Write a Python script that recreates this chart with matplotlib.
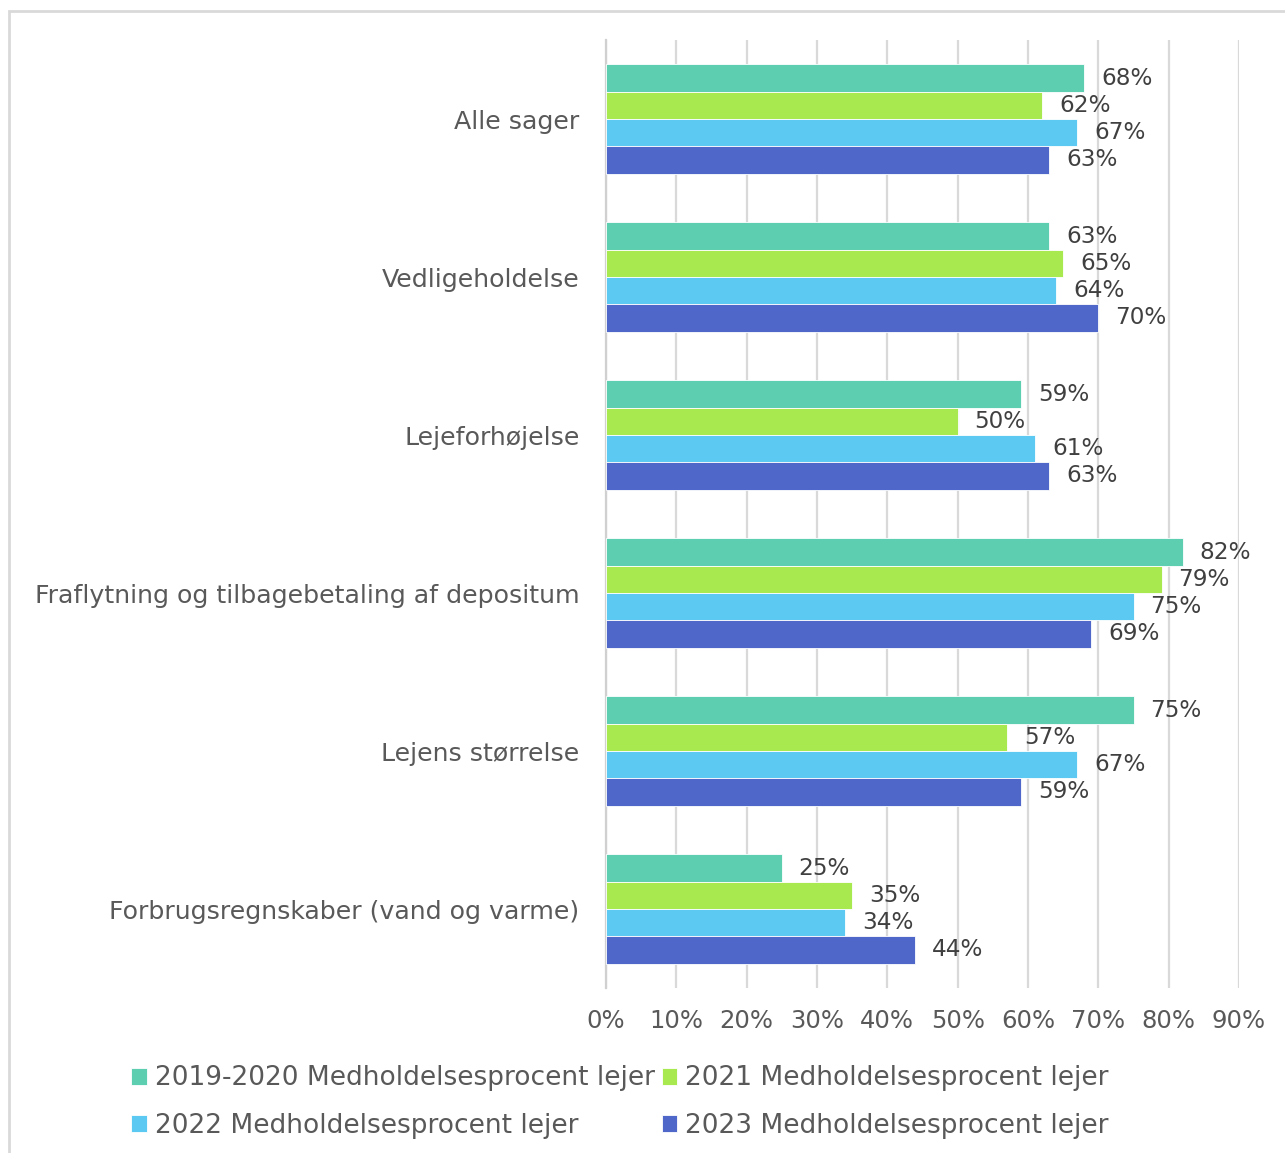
import numpy as np
import matplotlib.pyplot as plt
from matplotlib.patches import Rectangle

# Data
categories = ['Alle sager', 'Vedligeholdelse', 'Lejeforhøjelse',
              'Fraflytning og tilbagebetaling af depositum',
              'Lejens størrelse', 'Forbrugsregnskaber (vand og varme)']
series_names = ['2019-2020 Medholdelsesprocent lejer',
                '2021 Medholdelsesprocent lejer',
                '2022 Medholdelsesprocent lejer',
                '2023 Medholdelsesprocent lejer']
v2019_2020 = [0.68, 0.63, 0.59, 0.82, 0.75, 0.25]
v2021 = [0.62, 0.65, 0.50, 0.79, 0.57, 0.35]
v2022 = [0.67, 0.64, 0.61, 0.75, 0.67, 0.34]
v2023 = [0.63, 0.70, 0.63, 0.69, 0.59, 0.44]
xticks = [0, 0.1, 0.2, 0.3, 0.4, 0.5, 0.6, 0.7, 0.8, 0.9]

colors = ['#5DCFB0', '#A8E950', '#5BC9F1', '#4F67C8']
text_col = '#595959'

plt.rcParams['font.family'] = ['DejaVu Sans']

fig = plt.figure(figsize=(12.85, 11.53), dpi=100)
ax = fig.add_axes([606/1285, 1 - 988/1153, (1239 - 606)/1285, 948/1153])

# figure border
fig.patches.append(Rectangle((9/1285, -0.02), 1.1, 1 - 11/1153 + 0.02,
                             transform=fig.transFigure, fill=False,
                             edgecolor='#d9d9d9', linewidth=2))

y = np.arange(len(categories))
h = 0.1725
all_series = [v2019_2020, v2021, v2022, v2023]
handles = []
for i, vals in enumerate(all_series):
    pos = y + (i - 1.5) * h
    b = ax.barh(pos, vals, height=h, color=colors[i], label=series_names[i],
                edgecolor='white', linewidth=0.6, zorder=3)
    handles.append(b)
    for p, v in zip(pos, vals):
        ax.text(v + 0.024, p, f'{round(v * 100):d}%', va='center', ha='left',
                fontsize=16.7, color='#404040', zorder=4)

ax.set_xlim(0, 0.9)
ax.set_ylim(5.5, -0.5)
ax.set_xticks(xticks)
ax.set_xticklabels([f'{round(t * 100):d}%' for t in xticks])
ax.set_yticks(y)
ax.set_yticklabels(categories, fontsize=18.2)
ax.tick_params(axis='both', length=0, colors=text_col)
ax.tick_params(axis='x', pad=15, labelsize=17.5)
ax.tick_params(axis='y', pad=19)
ax.grid(axis='x', color='#d9d9d9', linewidth=1.6, zorder=0)
for s in ['top', 'right', 'bottom']:
    ax.spines[s].set_visible(False)
ax.spines['left'].set_color('#d0d0d0')
ax.spines['left'].set_linewidth(1.6)

order = [0, 2, 1, 3]
leg = fig.legend([handles[k] for k in order], [series_names[k] for k in order],
                 ncol=2, loc='upper center', bbox_to_anchor=(0.4825, 0.0965),
                 frameon=False, fontsize=19, handlelength=0.6, handleheight=0.6,
                 handletextpad=0.3, columnspacing=0.25, labelspacing=0.8)
for t in leg.get_texts():
    t.set_color(text_col)

fig.savefig('out.png', dpi=100)
